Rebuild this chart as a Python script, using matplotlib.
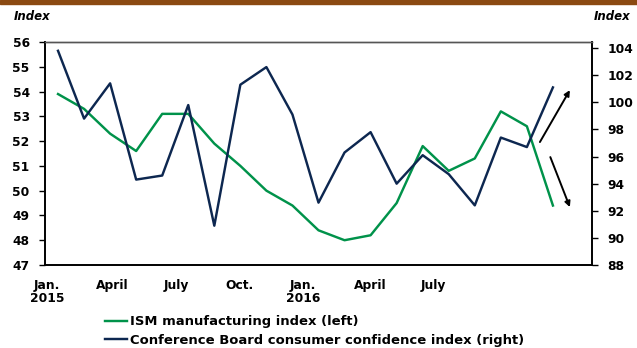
import matplotlib
matplotlib.use("Agg")
import matplotlib.pyplot as plt
from matplotlib.patches import Rectangle

plt.rcParams['font.family'] = ['DejaVu Sans']
plt.rcParams['font.weight'] = 'bold'

# Data (monthly, Jan 2015 - Aug 2016)
months = ["2015-01", "2015-02", "2015-03", "2015-04", "2015-05", "2015-06", "2015-07",
          "2015-08", "2015-09", "2015-10", "2015-11", "2015-12", "2016-01", "2016-02",
          "2016-03", "2016-04", "2016-05", "2016-06", "2016-07", "2016-08"]
ism = [53.9, 53.3, 52.3, 51.6, 53.1, 53.1, 51.9, 51.0, 50.0, 49.4,
       48.4, 48.0, 48.2, 49.5, 51.8, 50.8, 51.3, 53.2, 52.6, 49.4]
conf = [103.8, 98.8, 101.4, 94.3, 94.6, 99.8, 90.9, 101.3, 102.6, 99.1,
        92.6, 96.3, 97.8, 94.0, 96.1, 94.7, 92.4, 97.4, 96.7, 101.1]
tick_labels = ["Jan.\n2015", "April", "July", "Oct.", "Jan.\n2016", "April", "July"]
tick_pos = [-0.42, 2.1, 4.56, 6.98, 9.4, 11.98, 14.4]
left_ticks = list(range(47, 57))
right_ticks = list(range(88, 105, 2))
series_names = ["ISM manufacturing index (left)",
                "Conference Board consumer confidence index (right)"]

green = "#00924A"
navy = "#0D2750"
fs = 8.8
lfs = 9.45

fig = plt.figure(figsize=(6.37, 3.48), dpi=100)
W, H = 637, 348
ax = fig.add_axes([45 / W, 1 - 265 / H, (592 - 45) / W, (265 - 42) / H])
ax2 = ax.twinx()

x = list(range(len(months)))
l1, = ax.plot(x, ism, color=green, lw=1.75)
l2, = ax2.plot(x, conf, color=navy, lw=1.75)

ax.set_xlim(-0.5, 20.5)
ax.set_ylim(47, 56)
ax2.set_ylim(88, 104.45)
ax.set_yticks(left_ticks)
ax2.set_yticks(right_ticks)
ax.set_xticks(tick_pos)
ax.set_xticklabels(tick_labels, fontsize=fs, fontweight='bold', linespacing=1.0)
ax.tick_params(axis='x', length=0, pad=10)
ax.tick_params(axis='y', direction='out', length=4, labelsize=fs, pad=7, width=1)
ax2.tick_params(axis='y', direction='out', length=4, labelsize=fs, pad=7, width=1)
for t in ax.get_yticklabels() + ax2.get_yticklabels() + ax.get_xticklabels():
    t.set_fontweight('bold')

for a in (ax, ax2):
    for s in ['left', 'right', 'bottom']:
        a.spines[s].set_color('black')
        a.spines[s].set_linewidth(1.2)
    a.spines['top'].set_color('#555555')
    a.spines['top'].set_linewidth(1.0)

# arrows
ax2.annotate("", xy=(19.65, 100.9), xytext=(18.5, 97.07),
             arrowprops=dict(arrowstyle='-|>', color='black', lw=1.4, mutation_scale=8,
                             shrinkA=0, shrinkB=0))
ax2.annotate("", xy=(19.65, 92.27), xytext=(18.9, 95.96),
             arrowprops=dict(arrowstyle='-|>', color='black', lw=1.4, mutation_scale=8,
                             shrinkA=0, shrinkB=0))

# top brown bar
fig.patches.append(Rectangle((0, 1 - 3.5 / H), 1, 3.5 / H, transform=fig.transFigure,
                             color="#8B4A12", zorder=0))

fig.text(14 / W, 1 - 17 / H, "Index", fontsize=8.5, fontweight='bold', style='italic',
         va='center', ha='left')
fig.text(630 / W, 1 - 17 / H, "Index", fontsize=8.5, fontweight='bold', style='italic',
         va='center', ha='right')

fig.legend([l1, l2], series_names, loc='upper left', bbox_to_anchor=(105 / W, 1 - 315.5 / H),
           frameon=False, handlelength=1.7, handletextpad=0.2,
           labelspacing=0.4, borderaxespad=0, borderpad=0,
           prop={'weight': 'bold', 'size': lfs})

fig.savefig("out.png", dpi=100)
